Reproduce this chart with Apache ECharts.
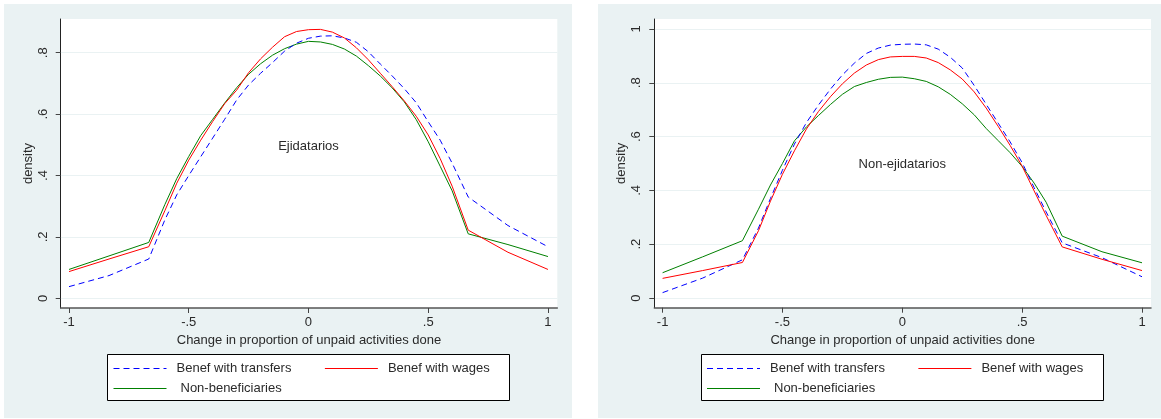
<!DOCTYPE html>
<html>
<head>
<meta charset="utf-8">
<script src="https://cdn.jsdelivr.net/npm/echarts@6/dist/echarts.min.js"></script>
<style>
  html, body { margin: 0; padding: 0; background: #ffffff; }
  #chart { width: 1161px; height: 419px; }
</style>
</head>
<body>
<div id="chart"></div>
<script>
// ---- data ----
const xs = [-1, -0.833, -0.667, -0.6, -0.55, -0.5, -0.45, -0.4, -0.35, -0.3, -0.25, -0.2, -0.15, -0.1, -0.05, 0,
            0.05, 0.1, 0.15, 0.2, 0.25, 0.3, 0.35, 0.4, 0.45, 0.5, 0.55, 0.6, 0.667, 0.833, 1];

// Panel 1: Ejidatarios
const ejTransfers = [0.038, 0.074, 0.128, 0.255, 0.337, 0.40, 0.461, 0.522, 0.583, 0.646, 0.695, 0.733, 0.768, 0.805, 0.831, 0.847,
                     0.854, 0.855, 0.848, 0.834, 0.803, 0.763, 0.724, 0.683, 0.637, 0.575, 0.515, 0.44, 0.33, 0.237, 0.168];
const ejWages     = [0.087, 0.128, 0.168, 0.285, 0.375, 0.45, 0.515, 0.576, 0.634, 0.678, 0.735, 0.78, 0.818, 0.852, 0.869, 0.875,
                     0.876, 0.867, 0.848, 0.816, 0.777, 0.733, 0.689, 0.643, 0.593, 0.532, 0.455, 0.365, 0.222, 0.15, 0.094];
const ejNonBenef  = [0.094, 0.138, 0.182, 0.305, 0.39, 0.462, 0.53, 0.583, 0.636, 0.686, 0.730, 0.764, 0.792, 0.813, 0.828, 0.837,
                     0.835, 0.827, 0.812, 0.789, 0.758, 0.724, 0.685, 0.64, 0.582, 0.51, 0.43, 0.35, 0.21, 0.175, 0.136];

// Panel 2: Non-ejidatarios
const nejTransfers = [0.020, 0.074, 0.142, 0.26, 0.37, 0.475, 0.572, 0.652, 0.717, 0.776, 0.829, 0.873, 0.909, 0.929, 0.94, 0.943,
                      0.944, 0.941, 0.925, 0.895, 0.855, 0.79, 0.72, 0.65, 0.58, 0.503, 0.41, 0.32, 0.205, 0.15, 0.079];
const nejWages     = [0.073, 0.102, 0.132, 0.25, 0.36, 0.46, 0.547, 0.628, 0.693, 0.748, 0.796, 0.836, 0.866, 0.886, 0.896, 0.898,
                      0.898, 0.892, 0.875, 0.848, 0.814, 0.766, 0.706, 0.638, 0.567, 0.49, 0.398, 0.307, 0.19, 0.144, 0.102];
const nejNonBenef  = [0.094, 0.153, 0.213, 0.33, 0.42, 0.50, 0.584, 0.636, 0.678, 0.719, 0.757, 0.786, 0.801, 0.813, 0.82, 0.821,
                      0.815, 0.805, 0.785, 0.757, 0.722, 0.681, 0.63, 0.585, 0.54, 0.489, 0.427, 0.356, 0.23, 0.172, 0.131];

const seriesNames = ['Benef with transfers', 'Benef with wages', 'Non-beneficiaries'];
const panelLabels = ['Ejidatarios', 'Non-ejidatarios'];
const xTicks = [-1, -0.5, 0, 0.5, 1];
const xTickLabels = ['-1', '-.5', '0', '.5', '1'];
const yTicks1 = [0, 0.2, 0.4, 0.6, 0.8];
const yTicks2 = [0, 0.2, 0.4, 0.6, 0.8, 1];
const yTickLabels = ['0', '.2', '.4', '.6', '.8', '1'];
const xTitle = 'Change in proportion of unpaid activities done';
const yTitle = 'density';

// ---- chart ----
const FONT = "'Liberation Sans', Arial, sans-serif";
const TXT = '#2a2a2a';
const BG = '#eaf2f3';
const colors = ['#0000ff', '#ff0000', '#008000'];

function pairs(ys) { return xs.map((x, i) => [x, ys[i]]); }
function fmtX(v) { const i = xTicks.findIndex(t => Math.abs(t - v) < 1e-6); return i >= 0 ? xTickLabels[i] : ''; }
function fmtY(v) { const i = Math.round(v / 0.2); return yTickLabels[i] !== undefined ? yTickLabels[i] : ''; }

function xAxisCfg(gi, min, max) {
  return {
    type: 'value', gridIndex: gi, min: min, max: max,
    name: xTitle, nameLocation: 'middle', nameGap: 24,
    nameTextStyle: { fontFamily: FONT, fontSize: 13, color: TXT },
    axisLine: { show: true, onZero: false, lineStyle: { color: '#555', width: 1.5 } },
    axisTick: { show: true, length: 5, customValues: xTicks, lineStyle: { color: '#444' } },
    axisLabel: { customValues: xTicks, formatter: fmtX, margin: 8, fontFamily: FONT, fontSize: 13, color: TXT },
    splitLine: { show: false }
  };
}
function yAxisCfg(gi, min, max, ticks) {
  return {
    type: 'value', gridIndex: gi, min: min, max: max,
    name: yTitle, nameLocation: 'middle', nameGap: 26, nameRotate: 90,
    nameTextStyle: { fontFamily: FONT, fontSize: 13, color: TXT },
    axisLine: { show: true, onZero: false, lineStyle: { color: '#222', width: 1 } },
    axisTick: { show: true, length: 5, customValues: ticks, lineStyle: { color: '#444' } },
    axisLabel: { customValues: ticks, formatter: fmtY, rotate: 90, margin: 11, fontFamily: FONT, fontSize: 13, color: TXT },
    splitLine: { show: true, lineStyle: { color: BG, width: 1 } }
  };
}

function lineSeries(name, ys, ci, gi, label) {
  const s = {
    name: name, type: 'line', xAxisIndex: gi, yAxisIndex: gi,
    data: pairs(ys), symbol: 'none', smooth: false, silent: true,
    color: colors[ci],
    lineStyle: { color: colors[ci], width: 1, type: ci === 0 ? [6, 4] : 'solid' },
    z: ci === 0 ? 3 : (ci === 1 ? 4 : 2)
  };
  if (label) {
    s.markPoint = {
      symbol: 'circle', symbolSize: 0, silent: true,
      label: { show: true, position: 'inside', formatter: label, fontFamily: FONT, fontSize: 13, color: TXT },
      data: [{ coord: [0, 0.496] }]
    };
  }
  return s;
}

function legendCfg(left, top, names, pad, gap) {
  return {
    left: left, top: top, orient: 'horizontal', data: names, padding: 0,
    itemWidth: 53, itemHeight: 14, itemGap: gap, selectedMode: false,
    itemStyle: { opacity: 0 },
    lineStyle: { width: 1 },
    textStyle: { fontFamily: FONT, fontSize: 13, color: TXT, padding: [0, 0, 0, pad] }
  };
}

const option = {
  animation: false,
  backgroundColor: '#ffffff',
  graphic: [
    { type: 'rect', z: -100, shape: { x: 4, y: 4, width: 568, height: 414 }, style: { fill: BG } },
    { type: 'rect', z: -100, shape: { x: 598, y: 4, width: 563, height: 414 }, style: { fill: BG } },
    { type: 'rect', z: 1, shape: { x: 107.5, y: 354.5, width: 402, height: 46 }, style: { fill: '#fff', stroke: '#000', lineWidth: 1 } },
    { type: 'rect', z: 1, shape: { x: 701.5, y: 354.5, width: 402, height: 46 }, style: { fill: '#fff', stroke: '#000', lineWidth: 1 } }
  ],
  grid: [
    { left: 60.7, top: 19, width: 496.6, height: 289, show: true, backgroundColor: '#ffffff', borderWidth: 0 },
    { left: 654.3, top: 19, width: 496.7, height: 288.7, show: true, backgroundColor: '#ffffff', borderWidth: 0 }
  ],
  xAxis: [xAxisCfg(0, -1.0347, 1.039), xAxisCfg(1, -1.0346, 1.0375)],
  yAxis: [yAxisCfg(0, -0.0316, 0.9098, yTicks1), yAxisCfg(1, -0.036, 1.037, yTicks2)],
  legend: [
    legendCfg(113, 362, [seriesNames[0], seriesNames[1]], 5, 33),
    legendCfg(113, 382, [seriesNames[2]], 9, 10),
    legendCfg(706.5, 362, [seriesNames[0], seriesNames[1]], 5, 33),
    legendCfg(706.5, 382, [seriesNames[2]], 9, 10)
  ],
  series: [
    lineSeries(seriesNames[2], ejNonBenef, 2, 0, panelLabels[0]),
    lineSeries(seriesNames[0], ejTransfers, 0, 0),
    lineSeries(seriesNames[1], ejWages, 1, 0),
    lineSeries(seriesNames[2], nejNonBenef, 2, 1, panelLabels[1]),
    lineSeries(seriesNames[0], nejTransfers, 0, 1),
    lineSeries(seriesNames[1], nejWages, 1, 1)
  ]
};

const chart = echarts.init(document.getElementById('chart'), null, { renderer: 'canvas' });
chart.setOption(option);
</script>
</body>
</html>
